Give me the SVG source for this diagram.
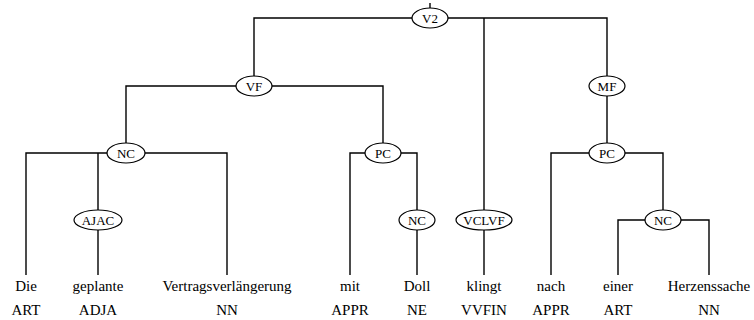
<svg xmlns="http://www.w3.org/2000/svg" width="754" height="320" viewBox="0 0 754 320">
<style>
.bg{fill:#fff}
.e{fill:#fff;stroke:#000;stroke-width:1.2}
.l{font-family:'Liberation Serif','Times New Roman','DejaVu Serif',serif;font-size:13px;text-anchor:middle;fill:#000}
.w{font-family:'Liberation Serif','Times New Roman','DejaVu Serif',serif;font-size:15px;text-anchor:middle;fill:#000}
#edges path{fill:none;stroke:#000;stroke-width:1.4}
</style>
<rect class="bg" width="754" height="320"/>
<g id="edges">
<path d="M430 3V8"/>
<path d="M254 76V18H607V76M484 18V210"/>
<path d="M126 143V86H383V143"/>
<path d="M607 96V143"/>
<path d="M26 275V153H227V275M98 153V210"/>
<path d="M98 230V275"/>
<path d="M350 275V153H417V210"/>
<path d="M417 230V275"/>
<path d="M484 230V275"/>
<path d="M551 275V153H663V210"/>
<path d="M618 275V220H709V275"/>
</g>
<g id="n-V2"><ellipse class="e" cx="430" cy="18" rx="18" ry="10"/><text class="l" x="430" y="23">V2</text></g>
<g id="n-VF"><ellipse class="e" cx="254" cy="86" rx="18" ry="10"/><text class="l" x="254" y="91">VF</text></g>
<g id="n-MF"><ellipse class="e" cx="607" cy="86" rx="18" ry="10"/><text class="l" x="607" y="91">MF</text></g>
<g id="n-NC1"><ellipse class="e" cx="126" cy="153" rx="19" ry="10"/><text class="l" x="126" y="158">NC</text></g>
<g id="n-PC1"><ellipse class="e" cx="383" cy="153" rx="18" ry="10"/><text class="l" x="383" y="158">PC</text></g>
<g id="n-PC2"><ellipse class="e" cx="607" cy="153" rx="18" ry="10"/><text class="l" x="607" y="158">PC</text></g>
<g id="n-AJAC"><ellipse class="e" cx="98" cy="220" rx="24" ry="10"/><text class="l" x="98" y="225">AJAC</text></g>
<g id="n-NC2"><ellipse class="e" cx="417" cy="220" rx="18" ry="10"/><text class="l" x="417" y="225">NC</text></g>
<g id="n-VCLVF"><ellipse class="e" cx="484" cy="220" rx="28" ry="10"/><text class="l" x="484" y="225">VCLVF</text></g>
<g id="n-NC3"><ellipse class="e" cx="663" cy="220" rx="18" ry="10"/><text class="l" x="663" y="225">NC</text></g>
<g id="w1"><text class="w" x="26" y="291">Die</text><text class="w" x="26" y="315">ART</text></g>
<g id="w2"><text class="w" x="98" y="291">geplante</text><text class="w" x="98" y="315">ADJA</text></g>
<g id="w3"><text class="w" x="227" y="291">Vertragsverlängerung</text><text class="w" x="227" y="315">NN</text></g>
<g id="w4"><text class="w" x="350" y="291">mit</text><text class="w" x="350" y="315">APPR</text></g>
<g id="w5"><text class="w" x="417" y="291">Doll</text><text class="w" x="417" y="315">NE</text></g>
<g id="w6"><text class="w" x="484" y="291">klingt</text><text class="w" x="484" y="315">VVFIN</text></g>
<g id="w7"><text class="w" x="551" y="291">nach</text><text class="w" x="551" y="315">APPR</text></g>
<g id="w8"><text class="w" x="618" y="291">einer</text><text class="w" x="618" y="315">ART</text></g>
<g id="w9"><text class="w" x="709" y="291">Herzenssache</text><text class="w" x="709" y="315">NN</text></g>
</svg>
